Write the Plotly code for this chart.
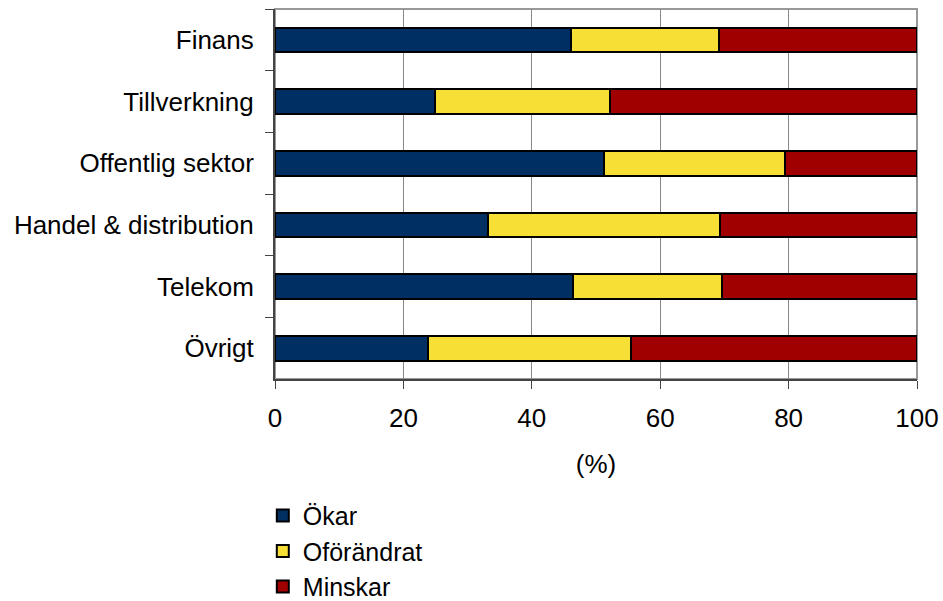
import plotly.graph_objects as go

categories = ["Finans", "Tillverkning", "Offentlig sektor", "Handel & distribution", "Telekom", "Övrigt"]
okar = [46.1, 24.9, 51.2, 33.2, 46.4, 23.9]
oforandrat = [23.0, 27.3, 28.2, 36.1, 23.2, 31.5]
minskar = [30.9, 47.8, 20.6, 30.7, 30.4, 44.6]
series_names = ["Ökar", "Oförändrat", "Minskar"]
colors = ["#003063", "#F7DF35", "#A00000"]
x_ticks = [0, 20, 40, 60, 80, 100]

fig = go.Figure()
for name, vals, col in zip(series_names, [okar, oforandrat, minskar], colors):
    fig.add_trace(go.Bar(
        y=categories, x=vals, name=name, orientation="h",
        marker=dict(color=col, line=dict(color="black", width=2)),
        width=0.4,
    ))

fig.update_layout(
    barmode="stack",
    width=943, height=601,
    margin=dict(l=275, r=26, t=9, b=222, autoexpand=False),
    paper_bgcolor="white", plot_bgcolor="white",
    font=dict(family="Liberation Sans, Arial, sans-serif", size=26, color="black"),
    showlegend=True,
    legend=dict(x=-0.019, y=-0.3076, xanchor="left", yanchor="top",
                orientation="v", traceorder="normal",
                font=dict(size=25), tracegroupgap=0, itemwidth=30),
    xaxis=dict(range=[0, 100], tickvals=x_ticks, showgrid=True, gridcolor="#888888", gridwidth=1,
               showline=True, linecolor="#444444", linewidth=2, ticks="outside", ticklen=8,
               tickcolor="#444444", zeroline=False, automargin=False, ticklabelstandoff=7,
               title=dict(text="(%)", standoff=23, font=dict(size=26))),
    yaxis=dict(autorange="reversed", showline=True, linecolor="#444444", linewidth=2,
               ticks="outside", ticklen=8, tickcolor="#444444", tickson="boundaries",
               showgrid=False, ticklabelstandoff=14, automargin=False),
    shapes=[dict(type="rect", xref="paper", yref="paper", x0=0, x1=1, y0=0, y1=1,
                 line=dict(color="#999999", width=2), layer="below")],
)

fig.write_html(
    "out.html",
    config={"displayModeBar": False},
    post_script="document.body.style.margin='0';document.body.style.overflow='hidden';",
)
